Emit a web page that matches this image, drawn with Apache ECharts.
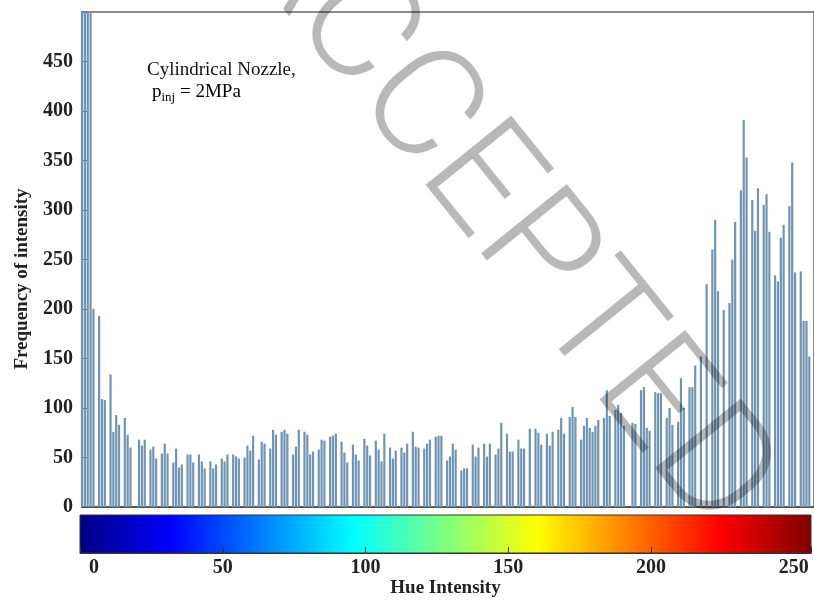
<!DOCTYPE html>
<html><head><meta charset="utf-8">
<script src="https://cdn.jsdelivr.net/npm/echarts@6/dist/echarts.min.js"></script>
<style>html,body{margin:0;padding:0;background:#fff}#c{width:814px;height:602px}</style>
</head><body><div id="c"></div>
<script>
// Frequency of each hue intensity bin (0..255); bins 0-3 exceed the axis top
const frequency = [
  600,600,600,600,200,0,193,109,108,0,
  134,76,93,83,0,90,73,60,0,0,
  68,62,68,0,58,61,49,0,54,64,
  54,0,45,59,40,43,0,53,53,45,
  0,53,46,39,0,46,39,43,0,49,
  46,53,0,53,51,49,0,50,62,57,
  72,0,48,66,64,0,59,78,73,0,
  76,78,74,0,53,61,78,0,76,73,
  53,56,0,58,68,67,0,71,72,74,
  0,66,55,45,0,63,53,47,0,69,
  62,52,0,67,58,46,74,0,60,49,
  57,0,60,55,64,0,76,61,60,0,
  59,64,68,0,71,72,72,0,47,51,
  64,58,0,37,39,39,0,63,51,60,
  0,64,51,64,0,53,59,85,0,74,
  56,56,0,68,59,59,0,79,0,79,
  75,63,0,74,62,76,0,78,90,74,
  0,91,101,91,0,68,82,90,80,76,
  82,88,0,90,118,92,0,98,103,95,
  82,0,0,85,84,0,118,121,80,77,
  0,116,115,115,0,90,100,83,0,86,
  130,100,0,121,121,143,0,152,0,225,
  0,260,290,218,0,199,0,206,250,288,
  0,320,391,353,0,310,279,322,0,305,
  316,278,0,234,228,272,285,0,304,348,
  237,0,238,188,188,152
];
const yTicks = [0,50,100,150,200,250,300,350,400,450];
const yMax = 500;
const hueTicks = [0,50,100,150,200,250];
const hueMax = 256;
const jetColors = ['#000080','#0000FF','#00FFFF','#FFFF00','#FF0000','#800000'];
const jetPositions = [0,0.125,0.375,0.625,0.875,1];

const serif = '"Liberation Serif","Times New Roman",serif';
const chart = echarts.init(document.getElementById('c'));
const barData = frequency.map((v,i)=>[i,v]);

chart.setOption({
  animation:false,
  backgroundColor:'#fff',
  grid:[
    {left:82, right:-2, top:12, bottom:95, show:true, borderColor:'#666', borderWidth:1.5, backgroundColor:'transparent'},
    {left:80, width:732, top:515, height:38, show:true, borderColor:'#333', borderWidth:1,
     backgroundColor:{type:'linear',x:0,y:0,x2:1,y2:0,
       colorStops: jetColors.map((c,k)=>({offset:jetPositions[k],color:c}))}}
  ],
  xAxis:[
    {type:'value', gridIndex:0, min:0, max:734/2.86, axisLabel:{show:false}, axisTick:{show:false},
     splitLine:{show:false}, axisLine:{show:true, lineStyle:{color:'#444', width:1.5}}},
    {type:'value', gridIndex:1, min:0, max:hueMax, interval:50,
     axisLine:{show:true, lineStyle:{color:'#333'}},
     axisTick:{show:true, inside:true, length:6, lineStyle:{color:'#333'}},
     splitLine:{show:false},
     axisLabel:{margin:5, fontFamily:serif, fontWeight:'bold', fontSize:20, color:'#222',
       formatter:v=> hueTicks.indexOf(v)<0 ? '' : (v===0 ? '{z|0}' : String(v)),
       rich:{z:{fontFamily:serif, fontWeight:'bold', fontSize:20, color:'#222', padding:[0,0,0,28]}}},
     name:'Hue Intensity', nameLocation:'middle', nameGap:26,
     nameTextStyle:{fontFamily:serif, fontWeight:'bold', fontSize:19, color:'#222', verticalAlign:'top'}}
  ],
  yAxis:[
    {type:'value', gridIndex:0, min:0, max:yMax, interval:50,
     axisLine:{show:true, lineStyle:{color:'#444', width:1.5}},
     axisTick:{show:true, inside:true, length:6, lineStyle:{color:'#444'}},
     splitLine:{show:false},
     axisLabel:{margin:9, fontFamily:serif, fontWeight:'bold', fontSize:20, color:'#222',
       formatter:v=> yTicks.indexOf(v)<0 ? '' : String(v)}},
    {type:'value', gridIndex:1, min:0, max:1, show:false}
  ],
  series:[
    {type:'bar', xAxisIndex:0, yAxisIndex:0, data:barData, barWidth:2.2, clip:true,
     itemStyle:{color:'#7094b1'}, z:2}
  ],
  graphic:[
    {type:'text', x:22, y:279, rotation:Math.PI/2, z:10,
     style:{text:'Frequency of intensity', align:'center', verticalAlign:'middle',
       font:'bold 19px '+serif, fill:'#222'}},
    {type:'text', x:147, y:70, z:10,
     style:{text:'Cylindrical Nozzle,', verticalAlign:'middle', font:'19px '+serif, fill:'#111'}},
    {type:'text', x:152, y:92, z:10,
     style:{text:'{a|p}{s|inj}{a| = 2MPa}', verticalAlign:'middle',
       rich:{a:{fontFamily:serif, fontSize:19, color:'#111', lineHeight:24, verticalAlign:'middle'},
             s:{fontFamily:serif, fontSize:13, color:'#111', lineHeight:24, verticalAlign:'bottom'}}}},
    {type:'text', x:500, y:215, rotation:-51*Math.PI/180, z:100, silent:true,
     style:{text:'ACCEPTED', align:'center', verticalAlign:'middle',
       font:'300 155px Roboto, "DejaVu Sans", sans-serif', fill:'rgba(0,0,0,0.28)'}}
  ]
});
</script></body></html>
